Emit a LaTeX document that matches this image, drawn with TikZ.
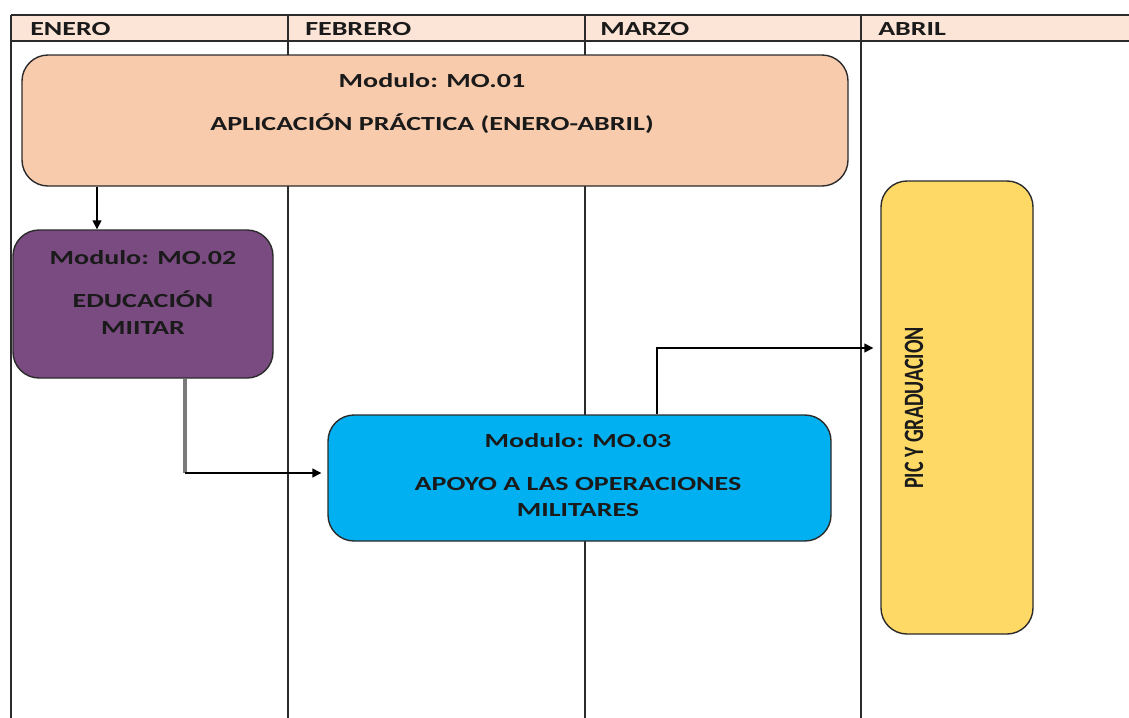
\documentclass[tikz,border=0pt]{standalone}
\usepackage{fontspec}
\usepackage{graphicx}
\usetikzlibrary{arrows.meta}
\newfontfamily\hfont{Carlito}[FakeStretch=1.4]
\newfontfamily\vfont{Carlito}
\definecolor{hdrfill}{HTML}{FCE4D6}
\definecolor{mofill}{HTML}{F8CBAD}
\definecolor{mtfill}{HTML}{7A4B81}
\definecolor{mthfill}{HTML}{00B0F0}
\definecolor{picfill}{HTML}{FFD966}
\definecolor{linec}{HTML}{2B2B2B}
\definecolor{txtc}{HTML}{1A1A1A}
\definecolor{grayc}{HTML}{7A7A7A}
\tikzset{
  gridline/.style={draw=linec, line width=1.2pt},
  box/.style={draw=linec, line width=1.05pt, rounded corners=19.5pt, inner sep=0pt},
  lbl/.style={text=txtc, font=\hfont\bfseries\fontsize{15pt}{20pt}\selectfont, align=center, inner sep=0pt},
  hdr/.style={text=txtc, font=\hfont\bfseries\fontsize{15pt}{20pt}\selectfont, anchor=west, inner sep=0pt},
  arr/.style={draw=black, line width=1.05pt, -{Triangle[length=6.75pt,width=6.75pt]}},
  grayconn/.style={draw=grayc, line width=2.4pt}
}
\begin{document}
\begin{tikzpicture}[x=0.75pt, y=-0.75pt]
\useasboundingbox (0,0) rectangle (1129,718);
% header band
\fill[hdrfill] (11,15) rectangle (1129,41);
\draw[gridline] (11,15) -- (1129,15);
\draw[gridline] (11,41) -- (1129,41);
\draw[gridline] (11,15) -- (11,718);
\draw[gridline] (288,15) -- (288,718);
\draw[gridline] (585,15) -- (585,718);
\draw[gridline] (861,15) -- (861,718);
\node[hdr] (hEne) at (30,29) {ENERO};
\node[hdr] (hFeb) at (305,29) {FEBRERO};
\node[hdr] (hMar) at (600,29) {MARZO};
\node[hdr] (hAbr) at (878,29) {ABRIL};
% boxes
\node[box, fill=mofill, minimum width=619.5pt, minimum height=98.25pt] (m1) at (435,120.5) {};
\node[box, fill=mtfill, minimum width=195pt, minimum height=111pt] (m2) at (143,304) {};
\node[box, fill=mthfill, minimum width=377.25pt, minimum height=94.5pt] (m3) at (579.5,478) {};
\node[box, fill=picfill, minimum width=114pt, minimum height=339.75pt] (pic) at (957,407.5) {};
% texts
\node[lbl] (t1a) at (432,81) {Modulo: MO.01};
\node[lbl] (t1b) at (432,124) {APLICACIÓN PRÁCTICA (ENERO-ABRIL)};
\node[lbl] (t2a) at (143,258) {Modulo: MO.02};
\node[lbl] (t2b) at (143,312.5) {EDUCACIÓN\\MIITAR};
\node[lbl] (t3a) at (578,441) {Modulo: MO.03};
\node[lbl] (t3b) at (578,497) {APOYO A LAS OPERACIONES\\MILITARES};
\node[text=txtc, rotate=90, inner sep=0pt, font=\vfont\bfseries\fontsize{15pt}{20pt}\selectfont] (tpic) at (914,408) {\scalebox{1}[1.4]{PIC Y GRADUACION}};
% connectors
\coordinate (a1) at (97,0);
\draw[arr] (m1.south -| a1) -- (m2.north -| a1);
\coordinate (c2) at (185,473);
\draw[grayconn] (m2.south -| c2) -- (c2);
\draw[arr, shorten >=4.5pt] (c2) -- (m3.west |- c2);
\coordinate (c3) at (657,348);
\draw[arr, shorten >=5.25pt] (m3.north -| c3) |- (pic.west |- c3);
\end{tikzpicture}
\end{document}
